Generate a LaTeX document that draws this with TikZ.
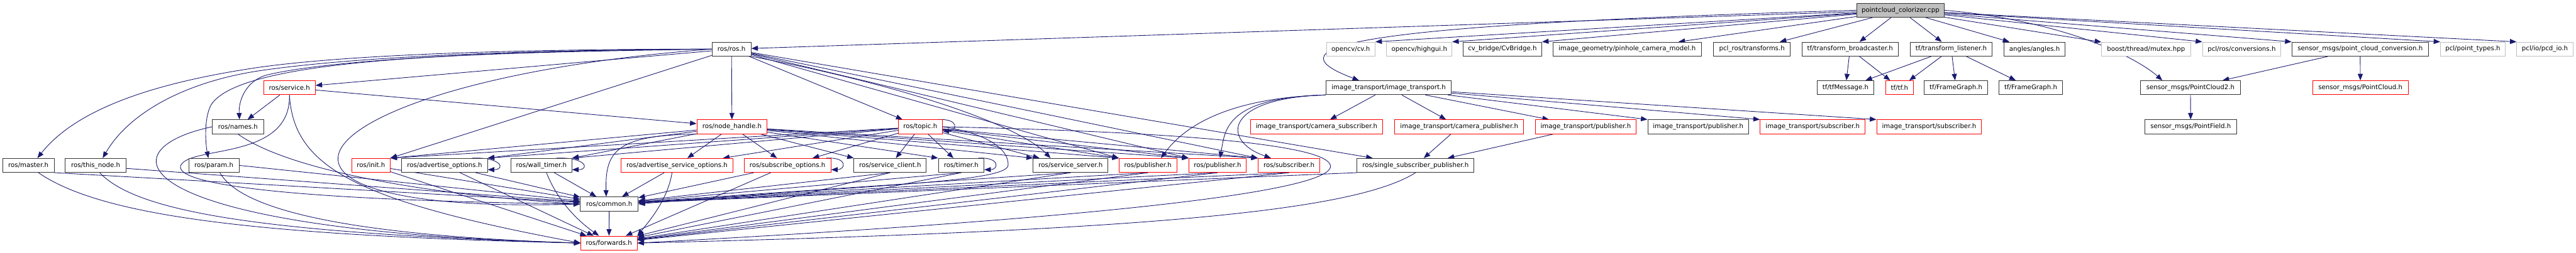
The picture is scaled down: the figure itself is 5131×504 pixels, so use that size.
\documentclass[tikz,border=0pt]{standalone}
\usepackage{fontspec}
\setmainfont{DejaVu Sans}
\usetikzlibrary{arrows.meta}
\definecolor{eblue}{HTML}{191970}
\definecolor{gbord}{HTML}{BFBFBF}
\definecolor{rootfill}{HTML}{BFBFBF}
\pgfdeclarelayer{bg}
\pgfdeclarelayer{edges}
\pgfsetlayers{bg,edges,main}
\begin{document}
\begin{tikzpicture}[x=0.5pt,y=-0.5pt,
  font=\fontsize{6.4pt}{7.6pt}\selectfont,
  box/.style={draw, line width=0.55pt, inner sep=0pt, minimum height=14pt, fill=white, text=black, anchor=center},
  nb/.style={box, draw=black!80},
  nr/.style={box, draw=red},
  ng/.style={box, draw=gbord},
  e/.style={draw=eblue, line width=0.55pt, -{Triangle[length=6.5pt,width=5pt]}},
]
\useasboundingbox (0,0) rectangle (5131,504);
\begin{pgfonlayer}{bg}
\fill[white] (0,0) rectangle (5131,504);
\end{pgfonlayer}

% row 0
\node[nb, fill=rootfill, minimum width=87.5pt] (root) at (3785.5,20.5) {pointcloud\_colorizer.cpp};
% row 1
\node[nb, minimum width=39pt] (ros) at (1457,98) {ros/ros.h};
\node[ng, minimum width=48.5pt] (cv) at (2690.5,98) {opencv/cv.h};
\node[ng, minimum width=65pt] (highgui) at (2827,98) {opencv/highgui.h};
\node[nb, minimum width=78.5pt] (cvbridge) at (2992.5,98) {cv\_bridge/CvBridge.h};
\node[nb, minimum width=148pt] (pinhole) at (3241,98) {image\_geometry/pinhole\_camera\_model.h};
\node[nb, minimum width=76.5pt] (pclros) at (3489.5,98) {pcl\_ros/transforms.h};
\node[nb, minimum width=96pt] (tfb) at (3685,98) {tf/transform\_broadcaster.h};
\node[nb, minimum width=81.5pt] (tfl) at (3886.5,98) {tf/transform\_listener.h};
\node[nb, minimum width=60.5pt] (angles) at (4052.5,98) {angles/angles.h};
\node[ng, minimum width=88.5pt] (mutex) at (4274.5,98) {boost/thread/mutex.hpp};
\node[ng, minimum width=78pt] (conv) at (4465,98) {pcl/ros/conversions.h};
\node[nb, minimum width=136pt] (pcc) at (4701,98) {sensor\_msgs/point\_cloud\_conversion.h};
\node[ng, minimum width=64.5pt] (ptypes) at (4925.5,98) {pcl/point\_types.h};
\node[ng, minimum width=56pt] (pcdio) at (5069,98) {pcl/io/pcd\_io.h};
% row 2
\node[nr, minimum width=51.5pt] (service) at (576.5,175) {ros/service.h};
\node[nb, minimum width=125pt] (it) at (2766,175) {image\_transport/image\_transport.h};
\node[nb, minimum width=56pt] (tfmsg) at (3676,175) {tf/tfMessage.h};
\node[nr, minimum width=27.5pt] (tf) at (3783.5,175) {tf/tf.h};
\node[nb, minimum width=63pt] (fg1) at (3896,175) {tf/FrameGraph.h};
\node[nb, minimum width=63pt] (fg2) at (4045,175) {tf/FrameGraph.h};
\node[nb, minimum width=100pt] (pc2) at (4363,175) {sensor\_msgs/PointCloud2.h};
\node[nr, minimum width=95.5pt] (pc) at (4701.5,175) {sensor\_msgs/PointCloud.h};
% row 3
\node[nb, minimum width=51pt] (names) at (474,253) {ros/names.h};
\node[nr, minimum width=70pt] (nh) at (1458,253) {ros/node\_handle.h};
\node[nr, minimum width=44pt] (topic) at (1833,253) {ros/topic.h};
\node[nr, minimum width=131.5pt] (csub) at (2622.5,253) {image\_transport/camera\_subscriber.h};
\node[nr, minimum width=128.5pt] (cpub) at (2906.5,253) {image\_transport/camera\_publisher.h};
\node[nr, minimum width=100.5pt] (itpub1) at (3158.5,253) {image\_transport/publisher.h};
\node[nb, minimum width=100.5pt] (itpub2) at (3382.5,253) {image\_transport/publisher.h};
\node[nr, minimum width=104.5pt] (itsub1) at (3610.5,253) {image\_transport/subscriber.h};
\node[nr, minimum width=104.5pt] (itsub2) at (3842.5,253) {image\_transport/subscriber.h};
\node[nb, minimum width=91.5pt] (pf) at (4363.5,253) {sensor\_msgs/PointField.h};
% row 4
\node[nb, minimum width=51.5pt] (master) at (56.5,330) {ros/master.h};
\node[nb, minimum width=60.5pt] (thisnode) at (190.5,330) {ros/this\_node.h};
\node[nb, minimum width=50pt] (param) at (426,330) {ros/param.h};
\node[nr, minimum width=38pt] (init) at (739,330) {ros/init.h};
\node[nb, minimum width=85.5pt] (advopt) at (885.5,330) {ros/advertise\_options.h};
\node[nb, minimum width=60.5pt] (wall) at (1078.5,330) {ros/wall\_timer.h};
\node[nr, minimum width=111.5pt] (asopt) at (1348.5,330) {ros/advertise\_service\_options.h};
\node[nr, minimum width=86.5pt] (subopt) at (1568.5,330) {ros/subscribe\_options.h};
\node[nb, minimum width=72pt] (sclient) at (1773,330) {ros/service\_client.h};
\node[nb, minimum width=45.5pt] (timer) at (1914.5,330) {ros/timer.h};
\node[nb, minimum width=74.5pt] (sserver) at (2132.5,330) {ros/service\_server.h};
\node[nr, minimum width=57.5pt] (pub1) at (2286.5,330) {ros/publisher.h};
\node[nr, minimum width=57pt] (pub2) at (2425,330) {ros/publisher.h};
\node[nr, minimum width=61.5pt] (sub) at (2567.5,330) {ros/subscriber.h};
\node[nb, minimum width=116.5pt] (ssp) at (2819.5,330) {ros/single\_subscriber\_publisher.h};
% row 5, 6
\node[nb, minimum width=57.5pt] (common) at (1213.5,407) {ros/common.h};
\node[nr, minimum width=56pt] (fwd) at (1213,485) {ros/forwards.h};

\begin{pgfonlayer}{edges}
% root
\draw[e] (root) -- (ros);
\draw[e] (root) -- (cv.north east);
\draw[e] (root) -- (highgui.north east);
\draw[e] (root) -- (cvbridge.north east);
\draw[e] (root) -- (pinhole);
\draw[e] (root) -- (pclros);
\draw[e] (root) -- (tfb);
\draw[e] (root) -- (tfl);
\draw[e] (root) -- (angles);
\draw[e] (root) -- (mutex);
\draw[e] (root) -- (conv.north west);
\draw[e] (root) -- (pcc.north west);
\draw[e] (root) -- (ptypes.north west);
\draw[e] (root) -- (pcdio.north west);
\draw[e] (root.west) .. controls (2700,50) and (2520,90) .. ([xshift=-29.5pt]it.north);
\draw[e] (root.east) .. controls (4100,40) and (4250,110) .. ([xshift=-28pt]pc2.north);
% tf
\draw[e] (tfb) -- (tfmsg);
\draw[e] (tfb) -- (tf);
\draw[e] (tfl) -- (tfmsg);
\draw[e] (tfl) -- (tf);
\draw[e] (tfl) -- (fg1);
\draw[e] (tfl) -- (fg2);
% sensor msgs
\draw[e] (pcc) -- (pc2);
\draw[e] (pcc) -- (pc);
\draw[e] (pc2) -- (pf);
% image_transport
\draw[e] (it) -- (csub);
\draw[e] (it) -- (cpub);
\draw[e] (it) -- (itpub1);
\draw[e] (it) -- (itpub2.north west);
\draw[e] (it) -- (itsub1.north west);
\draw[e] (it) -- (itsub2.north west);
\draw[e] (it.south west) .. controls (2450,195) and (2360,250) .. ([xshift=13pt]pub1.north);
\draw[e] (it.south west) .. controls (2440,195) and (2440,260) .. ([xshift=2.5pt]pub2.north);
\draw[e] (it.south west) .. controls (2440,195) and (2430,280) .. ([xshift=-18pt]sub.north);
% single subscriber publisher
\draw[e] (cpub) -- (ssp);
\draw[e] (itpub1) -- (ssp);
\draw[e] (ros) -- (ssp);
\draw[e] (ssp.south west) -- (common);
\draw[e] (ssp.south) .. controls (2700,420) and (2300,460) .. (fwd.east);
% ros.h to the left
\draw[e] (ros.west) .. controls (1000,98) and (700,110) .. (525,133) .. controls (300,165) and (150,220) .. ([xshift=9pt]master.north);
\draw[e] (ros.west) .. controls (1000,100) and (700,115) .. (525,140) .. controls (380,160) and (260,220) .. ([xshift=7pt]thisnode.north);
\draw[e] (ros.west) .. controls (1000,105) and (480,110) .. (420,210) .. controls (405,240) and (410,290) .. ([xshift=-5.5pt]param.north);
\draw[e] (ros.west) .. controls (1000,100) and (650,120) .. (530,150) .. controls (490,162) and (475,200) .. ([xshift=1.5pt]names.north);
\draw[e] (ros) -- (service);
\draw[e] (ros) -- (init.north east);
\draw[e] (ros) -- (nh);
\draw[e] (ros.west) .. controls (600,160) and (380,430) .. (common.west);
% ros.h to the right
\draw[e] (ros) -- (topic);
\draw[e] (ros.south east) .. controls (1800,170) and (2030,250) .. ([xshift=-20pt]sserver.north);
\draw[e] (ros) -- (pub1.north west);
\draw[e] (ros) -- (pub2.north west);
\draw[e] (ros) -- (sub.north west);
% service, names
\draw[e] (service) -- (names);
\draw[e] (service) -- (nh);
\draw[e] (service.south) .. controls (580,320) and (380,290) .. (360,330) .. controls (345,370) and (600,400) .. (common.west);
\draw[e] (service.south) .. controls (585,330) and (700,400) .. (fwd.west);
\draw[e] (names.south) .. controls (560,330) and (800,385) .. (common.west);
\draw[e] (names.west) .. controls (200,300) and (250,460) .. (fwd.west);
% master, this_node, param, init
\draw[e] (master.south east) -- (common);
\draw[e] ([xshift=10pt]master.south) .. controls (200,430) and (500,470) .. (fwd.west);
\draw[e] ([yshift=-3pt]thisnode.east) -- (common);
\draw[e] ([xshift=4pt]thisnode.south) .. controls (270,420) and (500,465) .. (fwd.west);
\draw[e] (param.east) -- (common);
\draw[e] ([xshift=6pt]param.south) .. controls (480,420) and (700,470) .. (fwd.west);
\draw[e] (init) -- (common);
\draw[e] (init) -- (fwd);
% advertise options
\draw[e] ([xshift=-15.5pt]advopt.north east) .. controls +(60,-2) and +(35,0) .. ([yshift=3pt]advopt.south east);
\draw[e] (advopt) -- (common);
\draw[e] (advopt) -- (fwd);
% wall timer
\draw[e] ([xshift=-15.5pt]wall.north east) .. controls +(60,-2) and +(35,0) .. ([yshift=3pt]wall.south east);
\draw[e] (wall) -- (common);
\draw[e] ([xshift=5pt]wall.south) .. controls (1110,400) and (1150,440) .. ([xshift=-10pt]fwd.north);
% advertise service options
\draw[e] (asopt) -- (common);
\draw[e] ([xshift=-5pt]asopt.south) .. controls (1330,400) and (1290,445) .. (fwd.north east);
% subscribe options
\draw[e] ([xshift=-5pt]subopt.north east) .. controls +(45,-2) and +(28,0) .. ([yshift=3pt]subopt.south east);
\draw[e] (subopt) -- (common);
\draw[e] (subopt) -- (fwd);
% node handle
\draw[e] (nh) -- (advopt.north east);
\draw[e] (nh) -- (wall.north east);
\draw[e] (nh) -- (asopt);
\draw[e] (nh) -- (subopt);
\draw[e] (nh) -- (init.north east);
\draw[e] (nh) -- (sclient.north west);
\draw[e] (nh) -- (timer.north west);
\draw[e] (nh) -- (sserver.north west);
\draw[e] (nh) -- (pub1.north west);
\draw[e] (nh) -- (pub2.north west);
\draw[e] (nh) -- (sub.north west);
\draw[e] (nh.south west) .. controls (1230,270) and (1205,300) .. ([xshift=-3pt]common.north);
% topic
\draw[e] ([xshift=-5pt]topic.north east) .. controls +(45,-2) and +(28,0) .. ([yshift=3pt]topic.south east);
\draw[e] (topic) -- (sclient);
\draw[e] (topic) -- (timer);
\draw[e] (topic) -- ([xshift=-31pt]sserver.north);
\draw[e] (topic) -- (pub1.north west);
\draw[e] (topic) -- (pub2.north west);
\draw[e] (topic) -- (sub.north west);
\draw[e] (topic) -- (init.north east);
\draw[e] (topic) -- (advopt.north east);
\draw[e] (topic) -- (wall.north east);
\draw[e] (topic) -- (asopt);
\draw[e] (topic) -- (subopt);
\draw[e] (topic.east) .. controls (1960,265) and (2010,295) .. (2008,330) .. controls (2005,365) and (1700,370) .. (common.east);
\draw[e] (topic.east) .. controls (2300,262) and (2640,285) .. (2650,330) .. controls (2660,375) and (2300,430) .. (fwd.east);
% timer
\draw[e] ([xshift=-6pt]timer.north east) .. controls +(45,-2) and +(28,0) .. ([yshift=3pt]timer.south east);
% row 4 right to common / forwards
\draw[e] (sclient.south) -- (common);
\draw[e] (sclient.south) -- (fwd);
\draw[e] (timer.south) -- (common);
\draw[e] (timer.south) -- (fwd);
\draw[e] (sserver.south) -- (common);
\draw[e] (sserver.south) -- (fwd);
\draw[e] (pub1.south) -- (common);
\draw[e] (pub1.south) -- (fwd);
\draw[e] (pub2.south) -- (common);
\draw[e] (pub2.south) -- (fwd);
\draw[e] (sub.south) -- (common);
\draw[e] (sub.south) -- (fwd);
% common to forwards
\draw[e] (common) -- (fwd);
\end{pgfonlayer}
\end{tikzpicture}
\end{document}
